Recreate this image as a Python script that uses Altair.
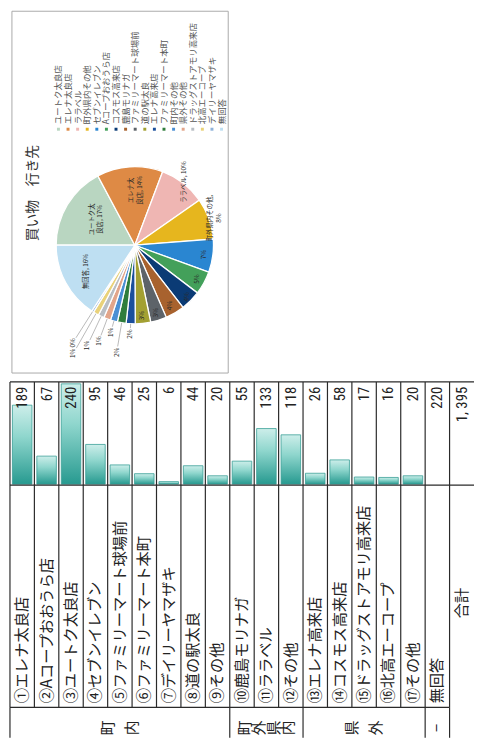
import math
import altair as alt
import pandas as pd

# ---------------- data ----------------
store_labels = ["①エレナ太良店", "②Aコープおおうら店", "③ユートク太良店", "④セブンイレブン",
                "⑤ファミリーマート球場前", "⑥ファミリーマート本町", "⑦デイリーヤマザキ", "⑧道の駅太良",
                "⑨その他", "⑩鹿島モリナガ", "⑪ララベル", "⑫その他", "⑬エレナ高来店",
                "⑭コスモス高来店", "⑮ドラッグストアモリ高来店", "⑯北高エーコープ", "⑰その他"]
store_values = [189, 67, 240, 95, 46, 25, 6, 44, 20, 55, 133, 118, 26, 58, 17, 16, 20]
no_answer_label = "無回答"
no_answer_value = 220
total_label = "合計"
total_text = "1, 395"
group_names = ["町内", "町外県内", "県外", "−"]
group_spans = [9, 3, 5, 1]

pie_title = "買い物　行き先"
pie_names = ["ユートク太良店", "エレナ太良店", "ララベル", "町外県内その他", "セブンイレブン",
             "Aコープおおうら店", "コスモス高来店", "鹿島モリナガ", "ファミリーマート球場前", "道の駅太良",
             "エレナ高来店", "ファミリーマート本町", "町内その他", "県外その他", "ドラッグストアモリ高来店",
             "北高エーコープ", "デイリーヤマザキ", "無回答"]
pie_values = [240, 189, 133, 118, 95, 67, 58, 55, 46, 44, 26, 25, 20, 20, 17, 16, 6, 220]
pie_colors = ["#b9d6c1", "#de8a45", "#efb6b3", "#e6b61e", "#2a86d1", "#43a05a", "#0b3b75",
              "#a8622e", "#5d6369", "#a3a032", "#1b4f9c", "#2f7d3c", "#4a8fd4", "#e2a58a",
              "#b9bec4", "#e9d27a", "#8fb2da", "#bedff2"]
pie_label_names = {"ユートク太良店": "ユートク太\n良店", "エレナ太良店": "エレナ太\n良店",
                   "ララベル": "ララベル", "町外県内その他": "町外県内その他,\n", "無回答": "無回答"}

# ---------------- layout (image pixel space; page offset 8) ----------------
OFF = 8
W, H = 474, 734
T_X0, T_X1 = 10, 482.0
NCOL = 19
STEP = (T_X1 - T_X0) / NCOL
T_TOP, T_BASE, T_LAB, T_BOT = 382, 487, 713, 742
BAR_TOP = 384
CX, CY, R = 137, 243, 80
label_r = [0.64, 0.70, 1.02, 1.02, 0.89, 0.90, 0.93, 0.89, 0.90, 0.90,
           1.13, 1.38, 1.15, 1.30, 1.41, 1.58, 1.47, 0.70]

JP = "Noto Sans CJK JP"
NUM = "Liberation Sans Narrow, Roboto Condensed, DejaVu Sans Condensed, Liberation Sans"


def px(v):
    return v - OFF


col_keys = store_labels + [no_answer_label, total_label]
xscale = alt.Scale(domain=col_keys, range=[px(T_X0), px(T_X1)], paddingInner=0.2, paddingOuter=0.1)

bars_df = pd.DataFrame({"col": store_labels, "value": store_values})
vals_df = pd.DataFrame({"col": store_labels + [no_answer_label, total_label],
                        "txt": [str(v) for v in store_values] + [str(no_answer_value), total_text]})
labs_df = pd.DataFrame({"col": store_labels + [no_answer_label],
                        "txt": store_labels + [no_answer_label]})

grad = alt.Gradient(gradient="linear",
                    stops=[alt.GradientStop(color="#279a90", offset=0),
                           alt.GradientStop(color="#8fd6cd", offset=0.6),
                           alt.GradientStop(color="#cdeeea", offset=1)],
                    x1=0, x2=0, y1=1, y2=0)

bars = alt.Chart(bars_df).mark_bar(color=grad, stroke="#3a9f96", strokeWidth=0.8).encode(
    x=alt.X("col:N", scale=xscale, axis=None),
    y=alt.Y("value:Q", scale=alt.Scale(domain=[0, 240], range=[px(T_BASE - 1), px(BAR_TOP)], nice=False), axis=None),
)

vals = alt.Chart(vals_df).mark_text(angle=270, align="right", baseline="middle", font=NUM,
                                    fontSize=15, color="#222").encode(
    x=alt.X("col:N", scale=xscale, axis=None),
    y=alt.value(px(T_TOP + 5)),
    text="txt:N",
)

labs = alt.Chart(labs_df).mark_text(angle=270, align="left", baseline="middle", font=JP,
                                    fontSize=15.5, color="#222").encode(
    x=alt.X("col:N", scale=xscale, axis=None),
    y=alt.value(px(T_LAB - 4)),
    text="txt:N",
)

total_lab = alt.Chart(pd.DataFrame({"col": [total_label]})).mark_text(
    angle=270, align="center", baseline="middle", font=JP, fontSize=15.5, color="#222").encode(
    x=alt.X("col:N", scale=xscale, axis=None),
    y=alt.value(px(607)),
    text="col:N",
)

# group labels (glyphs rotated with the page, laid out left to right)
g_rows = []
start = 0
for name, span in zip(group_names, group_spans):
    cx = T_X0 + (start + span / 2) * STEP
    n = len(name)
    gap = 14.7 if n >= 4 else 24
    for k, ch in enumerate(name):
        g_rows.append({"x": px(cx + (k - (n - 1) / 2) * gap), "y": px(734), "t": ch})
    start += span
groups = alt.Chart(pd.DataFrame(g_rows)).mark_text(
    angle=270, align="center", baseline="middle", font=JP, fontSize=15, color="#222").encode(
    x=alt.X("x:Q", scale=None), y=alt.Y("y:Q", scale=None), text="t:N")

# table lines
lines = []
for i in range(NCOL):
    xx = T_X0 + i * STEP
    lines.append({"x": px(xx), "x2": px(xx), "y": px(T_TOP), "y2": px(T_LAB)})
bounds = [0]
acc = 0
for s in group_spans:
    acc += s
    bounds.append(acc)
for b in bounds:
    xx = T_X0 + b * STEP
    lines.append({"x": px(xx), "x2": px(xx), "y": px(T_LAB), "y2": px(T_BOT + 2)})
lines.append({"x": px(T_X0), "x2": px(T_X1 + 2), "y": px(T_TOP), "y2": px(T_TOP)})
lines.append({"x": px(T_X0), "x2": px(T_X1 + 2), "y": px(T_BASE), "y2": px(T_BASE)})
lines.append({"x": px(T_X0), "x2": px(T_X0 + 18 * STEP), "y": px(T_LAB), "y2": px(T_LAB)})
table_lines = alt.Chart(pd.DataFrame(lines)).mark_rule(color="#2a2a2a", strokeWidth=1.2).encode(
    x=alt.X("x:Q", scale=None), x2="x2:Q", y=alt.Y("y:Q", scale=None), y2="y2:Q")

# ---------------- pie ----------------
box = alt.Chart(pd.DataFrame({"a": [0]})).mark_rect(fill="white", stroke="#a9a9a9", strokeWidth=1).encode(
    x=alt.value(px(12)), x2=alt.value(px(232)), y=alt.value(px(5)), y2=alt.value(px(373)))

total = sum(pie_values)
pie_df = pd.DataFrame({"name": pie_names, "value": pie_values, "idx": list(range(len(pie_names)))})
color_scale = alt.Scale(domain=pie_names, range=pie_colors)
pie = alt.Chart(pie_df).mark_arc(outerRadius=R, stroke="white", strokeWidth=1.3).encode(
    theta=alt.Theta("value:Q", stack=True, scale=alt.Scale(range=[1.5 * math.pi, 3.5 * math.pi])),
    color=alt.Color("name:N", scale=color_scale, legend=None),
    order=alt.Order("idx:Q"),
    x=alt.value(px(CX)), y=alt.value(px(CY)),
)

lab_rows, lead_rows = [], []
cum = 0
for i, (n, v) in enumerate(zip(pie_names, pie_values)):
    mid = (cum + v / 2) / total
    cum += v
    th = 1.5 * math.pi + 2 * math.pi * mid
    pct = f"{round(v / total * 100)}%"
    if n in pie_label_names:
        base = pie_label_names[n]
        txt = base + pct if base.endswith("\n") else base + ", " + pct
    else:
        txt = pct
    r = label_r[i] * R
    lab_rows.append({"x": px(CX + r * math.sin(th)), "y": px(CY - r * math.cos(th)), "t": txt})
    if label_r[i] > 1.05:
        r2 = r - 6
        lead_rows.append({"x": px(CX + R * math.sin(th)), "y": px(CY - R * math.cos(th)),
                          "x2": px(CX + r2 * math.sin(th)), "y2": px(CY - r2 * math.cos(th))})
pie_labels = alt.Chart(pd.DataFrame(lab_rows)).mark_text(
    angle=270, align="center", baseline="middle", font=JP, fontSize=6.5, color="#2a2a2a",
    lineBreak="\n", lineHeight=9).encode(
    x=alt.X("x:Q", scale=None), y=alt.Y("y:Q", scale=None), text="t:N")
leaders = alt.Chart(pd.DataFrame(lead_rows)).mark_rule(color="#9a9a9a", strokeWidth=0.7).encode(
    x=alt.X("x:Q", scale=None), x2="x2:Q", y=alt.Y("y:Q", scale=None), y2="y2:Q")

title = alt.Chart(pd.DataFrame({"t": [pie_title]})).mark_text(
    angle=270, align="center", baseline="middle", font=JP, fontSize=14, color="#333").encode(
    x=alt.value(px(33)), y=alt.value(px(190)), text="t:N")

leg_df = pd.DataFrame({"name": pie_names,
                       "x": [px(59.3 + k * 9.76) for k in range(len(pie_names))]})
leg_pts = alt.Chart(leg_df).mark_square(size=9, opacity=1).encode(
    x=alt.X("x:Q", scale=None), y=alt.value(px(125)),
    color=alt.Color("name:N", scale=color_scale, legend=None))
leg_txt = alt.Chart(leg_df).mark_text(
    angle=270, align="left", baseline="middle", font=JP, fontSize=8.6, color="#555").encode(
    x=alt.X("x:Q", scale=None), y=alt.value(px(120)), text="name:N")

chart = alt.layer(
    box, pie, leaders, pie_labels, title, leg_pts, leg_txt,
    bars, table_lines, vals, labs, total_lab, groups,
).resolve_scale(x="independent", y="independent").properties(
    width=W, height=H, padding=0, autosize=alt.AutoSizeParams(type="none")
).configure_view(stroke=None)

chart.save("out.html", embed_options={"renderer": "svg", "actions": False})
